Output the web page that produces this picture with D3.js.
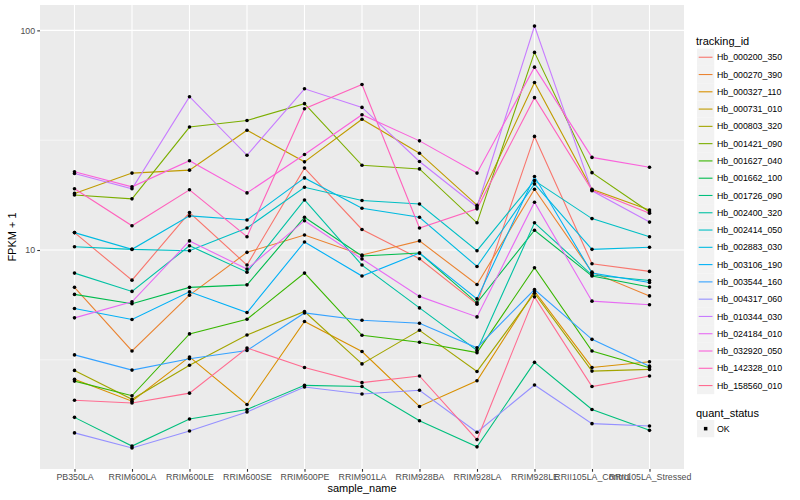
<!DOCTYPE html>
<html><head><meta charset="utf-8">
<script src="https://cdn.jsdelivr.net/npm/d3@7/dist/d3.min.js"></script>
<style>
body{margin:0;background:#fff}
text{font-family:"Liberation Sans",Arial,Helvetica,sans-serif}
</style>
</head><body>
<svg id="chart" width="800" height="500"></svg>
<script>
// ---- data ----
const samples = ["PB350LA","RRIM600LA","RRIM600LE","RRIM600SE","RRIM600PE","RRIM901LA","RRIM928BA","RRIM928LA","RRIM928LE","RRII105LA_Control","RRII105LA_Stressed"];
const trackingIds = ["Hb_000200_350","Hb_000270_390","Hb_000327_110","Hb_000731_010","Hb_000803_320","Hb_001421_090","Hb_001627_040","Hb_001662_100","Hb_001726_090","Hb_002400_320","Hb_002414_050","Hb_002883_030","Hb_003106_190","Hb_003544_160","Hb_004317_060","Hb_010344_030","Hb_024184_010","Hb_032920_050","Hb_142328_010","Hb_158560_010"];
const seriesColors = ["#F8766D","#EA8331","#D89000","#C09B00","#A3A500","#7CAE00","#39B600","#00BB4E","#00BF7D","#00C1A3","#00BFC4","#00BAE0","#00B0F6","#35A2FF","#9590FF","#C77CFF","#E76BF3","#FA62DB","#FF62BC","#FF6C91"];
const yTicks = [10, 100];
const quantStatus = ["OK"];

const v_000200_350 = [12.0, 7.29, 14.8, 8.54, 23.6, 12.4, 9.13, 5.67, 32.9, 8.66, 7.99];
const v_000270_390 = [6.76, 3.47, 6.23, 9.76, 11.7, 9.49, 11.0, 6.97, 18.9, 7.93, 6.18];
const v_000327_110 = [2.58, 2.05, 3.26, 1.98, 4.73, 3.45, 1.94, 2.54, 6.50, 2.92, 3.10];
const v_000731_010 = [18.1, 22.4, 23.1, 35.1, 25.2, 39.4, 27.6, 16.0, 57.9, 18.9, 15.2];
const v_000803_320 = [2.83, 2.09, 2.99, 4.10, 5.25, 3.03, 4.31, 2.80, 6.36, 2.81, 2.86];
const v_001421_090 = [17.8, 17.1, 36.3, 38.9, 46.4, 24.3, 23.4, 13.3, 79.4, 22.5, 14.9];
const v_001627_040 = [2.53, 2.17, 4.15, 4.84, 7.85, 4.09, 3.80, 3.41, 8.30, 3.47, 2.91];
const v_001662_100 = [6.28, 5.69, 6.76, 6.94, 14.1, 9.39, 9.69, 5.75, 12.3, 7.61, 6.78];
const v_001726_090 = [1.73, 1.28, 1.70, 1.88, 2.42, 2.39, 1.67, 1.27, 3.08, 1.88, 1.51];
const v_002400_320 = [7.85, 6.48, 10.46, 7.93, 16.9, 8.54, 5.45, 3.49, 13.3, 7.69, 7.26];
const v_002414_050 = [10.35, 10.07, 9.93, 12.6, 19.3, 16.8, 16.2, 9.93, 20.7, 13.9, 11.5];
const v_002883_030 = [12.0, 10.07, 14.3, 13.7, 21.3, 15.5, 14.1, 8.41, 20.0, 10.07, 10.3];
const v_003106_190 = [5.42, 4.83, 6.45, 5.19, 10.88, 7.61, 9.69, 5.99, 21.6, 7.85, 7.11];
const v_003544_160 = [3.33, 2.84, 3.20, 3.49, 5.17, 4.79, 4.64, 3.59, 6.61, 3.92, 2.96];
const v_004317_060 = [1.47, 1.256, 1.50, 1.83, 2.38, 2.21, 2.30, 1.48, 2.43, 1.62, 1.58];
const v_010344_030 = [22.3, 19.0, 49.9, 27.0, 54.2, 44.6, 25.3, 15.7, 104.6, 18.6, 13.4];
const v_024184_010 = [4.91, 5.81, 11.0, 8.19, 13.6, 9.10, 6.15, 4.96, 16.5, 5.85, 5.63];
const v_032920_050 = [22.7, 19.4, 25.5, 18.2, 27.2, 41.3, 31.4, 22.4, 68.0, 26.4, 23.8];
const v_142328_010 = [19.0, 12.9, 18.8, 11.5, 44.0, 56.7, 12.6, 15.4, 49.4, 18.7, 14.7];
const v_158560_010 = [2.07, 2.01, 2.23, 3.58, 2.92, 2.49, 2.67, 1.37, 6.12, 2.39, 2.67];

const seriesValues = [v_000200_350,v_000270_390,v_000327_110,v_000731_010,v_000803_320,v_001421_090,v_001627_040,v_001662_100,v_001726_090,v_002400_320,v_002414_050,v_002883_030,v_003106_190,v_003544_160,v_004317_060,v_010344_030,v_024184_010,v_032920_050,v_142328_010,v_158560_010];

const series = trackingIds.map((id, i) => ({
  id, color: seriesColors[i],
  pts: samples.map((s, j) => ({s, v: seriesValues[i][j]}))
}));

// ---- layout ----
const svg = d3.select("#chart");
const P = {l: 40, r: 684, t: 5, b: 469};
const axisCol = "#4D4D4D", tickCol = "#333333";

const x = d3.scalePoint().domain(samples).range([P.l, P.r]).padding(0.6);
const all = seriesValues.flat();
const lmin = Math.log10(d3.min(all)), lmax = Math.log10(d3.max(all));
const ex = (lmax - lmin) * 0.05;
const y = d3.scaleLog().domain([Math.pow(10, lmin - ex), Math.pow(10, lmax + ex)]).range([P.b, P.t]);

// panel
svg.append("rect").attr("x", P.l).attr("y", P.t).attr("width", P.r - P.l).attr("height", P.b - P.t).attr("fill", "#EBEBEB");

// minor grid (midpoints in log space)
const minor = [Math.pow(10, 0.5), Math.pow(10, 1.5), Math.pow(10, 2.5)].filter(v => y(v) >= P.t && y(v) <= P.b);
svg.append("g").selectAll("line").data(minor).join("line")
  .attr("x1", P.l).attr("x2", P.r).attr("y1", d => y(d)).attr("y2", d => y(d))
  .attr("stroke", "#fff").attr("stroke-width", 0.55);
// major grid
svg.append("g").selectAll("line").data(yTicks).join("line")
  .attr("x1", P.l).attr("x2", P.r).attr("y1", d => y(d)).attr("y2", d => y(d))
  .attr("stroke", "#fff").attr("stroke-width", 1.1);
svg.append("g").selectAll("line").data(samples).join("line")
  .attr("x1", d => x(d)).attr("x2", d => x(d)).attr("y1", P.t).attr("y2", P.b)
  .attr("stroke", "#fff").attr("stroke-width", 1.1);

// lines
const line = d3.line().x(d => x(d.s)).y(d => y(d.v));
svg.append("g").selectAll("path").data(series).join("path")
  .attr("d", d => line(d.pts)).attr("fill", "none")
  .attr("stroke", d => d.color).attr("stroke-width", 1.1);

// points
svg.append("g").selectAll("circle").data(series.flatMap(d => d.pts)).join("circle")
  .attr("cx", d => x(d.s)).attr("cy", d => y(d.v)).attr("r", 1.8).attr("fill", "#000");

// axes
const yAxis = d3.axisLeft(y).tickValues(yTicks).tickFormat(d3.format("d")).tickSize(2.75).tickPadding(2.2);
const gy = svg.append("g").attr("transform", `translate(${P.l},0)`).call(yAxis);
const xAxis = d3.axisBottom(x).tickSize(2.75).tickPadding(2.5);
const gx = svg.append("g").attr("transform", `translate(0,${P.b})`).call(xAxis);
[gx, gy].forEach(g => {
  g.select(".domain").remove();
  g.selectAll(".tick line").attr("stroke", tickCol).attr("stroke-width", 1.1);
  g.selectAll(".tick text").attr("fill", axisCol).style("font-size", "8.8px")
    .style("font-family", '"Liberation Sans",Arial,sans-serif');
});

// axis titles
svg.append("text").attr("x", (P.l + P.r) / 2).attr("y", 492).attr("text-anchor", "middle")
  .style("font-size", "11px").attr("fill", "#000").text("sample_name");
svg.append("text").attr("transform", `translate(16,${(P.t + P.b) / 2}) rotate(-90)`)
  .attr("text-anchor", "middle").style("font-size", "11px").attr("fill", "#000").text("FPKM + 1");

// legend: tracking_id
const lg = svg.append("g");
lg.append("text").attr("x", 696).attr("y", 44.5).style("font-size", "11px").attr("fill", "#000").text("tracking_id");
const keyH = 17.28, key0 = 48.6;
const items = lg.selectAll("g.item").data(series).join("g").attr("class", "item")
  .attr("transform", (d, i) => `translate(697,${key0 + i * keyH})`);
items.append("rect").attr("width", 17.28).attr("height", 17.28).attr("fill", "#F2F2F2");
items.append("line").attr("x1", 1.7).attr("x2", 15.5).attr("y1", 8.64).attr("y2", 8.64)
  .attr("stroke", d => d.color).attr("stroke-width", 1.1);
items.append("text").attr("x", 20).attr("y", 8.64).attr("dy", "0.35em")
  .style("font-size", "8.8px").attr("fill", "#000").text(d => d.id);

// legend: quant_status
const qy = 416.5;
lg.append("text").attr("x", 696).attr("y", qy).style("font-size", "11px").attr("fill", "#000").text("quant_status");
const q = lg.selectAll("g.q").data(quantStatus).join("g").attr("class", "q")
  .attr("transform", (d, i) => `translate(697,${qy + 3.5 + i * keyH})`);
q.append("rect").attr("width", 17.28).attr("height", 17.28).attr("fill", "#F2F2F2");
q.append("rect").attr("x", 6.9).attr("y", 6.9).attr("width", 3.5).attr("height", 3.5).attr("fill", "#000");
q.append("text").attr("x", 20).attr("y", 8.64).attr("dy", "0.35em")
  .style("font-size", "8.8px").attr("fill", "#000").text(d => d);
</script>
</body></html>
